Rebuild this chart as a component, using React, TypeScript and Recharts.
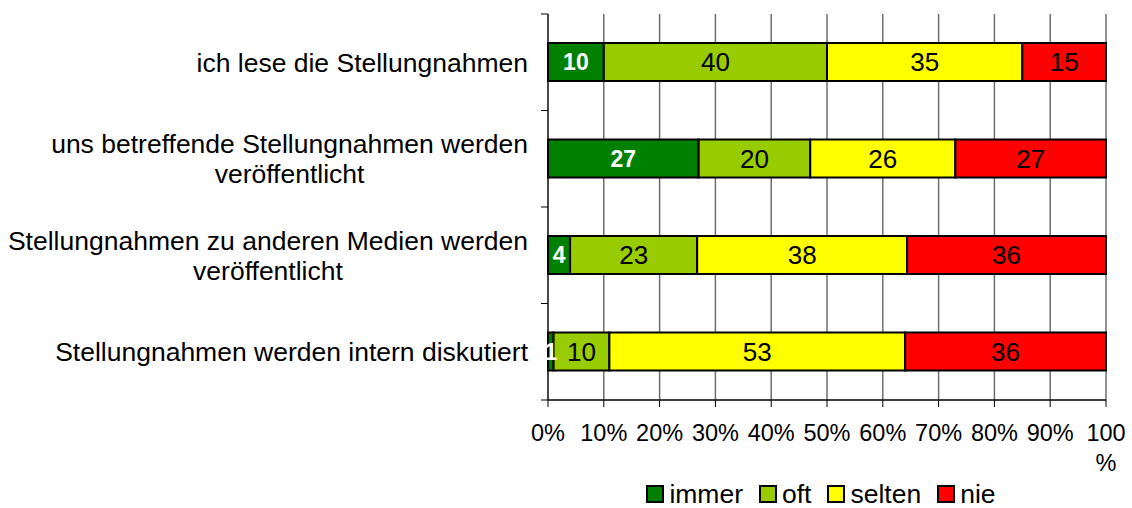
import React from 'react';
import { BarChart, Bar, XAxis, YAxis, CartesianGrid, Legend, LabelList } from 'recharts';

const CATEGORIES = [
  'ich lese die Stellungnahmen',
  'uns betreffende Stellungnahmen werden|veröffentlicht',
  'Stellungnahmen zu anderen Medien werden|veröffentlicht',
  'Stellungnahmen werden intern diskutiert',
];
const IMMER = [10, 27, 4, 1];
const OFT = [40, 20, 23, 10];
const SELTEN = [35, 26, 38, 53];
const NIE = [15, 27, 36, 36];
const X_TICKS = [0, 0.1, 0.2, 0.3, 0.4, 0.5, 0.6, 0.7, 0.8, 0.9, 1];

const SERIES = [
  { key: 'immer', color: '#008000' },
  { key: 'oft', color: '#99CC00' },
  { key: 'selten', color: '#FFFF00' },
  { key: 'nie', color: '#FF0000' },
];

const data = CATEGORIES.map((name, i) => ({
  name,
  immer: IMMER[i],
  oft: OFT[i],
  selten: SELTEN[i],
  nie: NIE[i],
}));

const FONT = '"Liberation Sans", Arial, sans-serif';
const W = 1132;
const H = 508;
const MARGIN = { top: 14, right: 26, bottom: 0, left: 0 };
const Y_WIDTH = 548;
const X_HEIGHT = 70;
const LEGEND_H = 38;
const PLOT_H = H - MARGIN.top - X_HEIGHT - LEGEND_H;
const BAND = PLOT_H / CATEGORIES.length;

let ctx: CanvasRenderingContext2D | null = null;
const measure = (text: string, size: number) => {
  if (!ctx) ctx = document.createElement('canvas').getContext('2d');
  if (!ctx) return text.length * size * 0.5;
  ctx.font = `${size}px "Liberation Sans"`;
  return ctx.measureText(text).width;
};

const CategoryTick = (props: any) => {
  const { x, y, payload, index } = props;
  const lines: string[] = String(payload.value).split('|');
  const size = 26.5;
  const lh = 30;
  const maxW = Math.max(...lines.map((l) => measure(l, size)));
  const cx = x - maxW / 2;
  const axisX = x + 20;
  return (
    <g>
      <line x1={axisX - 7} x2={axisX} y1={y - BAND / 2} y2={y - BAND / 2} stroke="#000" />
      {index === CATEGORIES.length - 1 && (
        <line x1={axisX - 7} x2={axisX} y1={y + BAND / 2} y2={y + BAND / 2} stroke="#000" />
      )}
      {lines.map((l, i) => (
        <text
          key={i}
          x={lines.length > 1 ? cx : x}
          y={y + (i - (lines.length - 1) / 2) * lh}
          dy="0.35em"
          textAnchor={lines.length > 1 ? 'middle' : 'end'}
          fontSize={size}
          fontFamily={FONT}
          fill="#000"
        >
          {l}
        </text>
      ))}
    </g>
  );
};

const PercentTick = (props: any) => {
  const { x, y, payload } = props;
  const v = Math.round(payload.value * 100);
  const lines = v === 100 ? ['100', '%'] : [`${v}%`];
  return (
    <g>
      {lines.map((l, i) => (
        <text key={i} x={x} y={y + 32 + i * 30} textAnchor="middle" fontSize={23.5} fontFamily={FONT} fill="#000">
          {l}
        </text>
      ))}
    </g>
  );
};

const LegendContent = () => (
  <div
    style={{
      display: 'flex',
      justifyContent: 'center',
      alignItems: 'center',
      height: LEGEND_H,
      paddingTop: 10,
      boxSizing: 'border-box',
      fontFamily: FONT,
      fontSize: 26.5,
      color: '#000',
    }}
  >
    {SERIES.map((s, i) => (
      <div
        key={s.key}
        style={{ display: 'flex', alignItems: 'center', marginRight: i === SERIES.length - 1 ? 0 : 16 }}
      >
        <span
          style={{
            display: 'inline-block',
            width: 14,
            height: 14,
            background: s.color,
            border: '2px solid #000',
            marginRight: 5,
          }}
        />
        <span>{s.key}</span>
      </div>
    ))}
  </div>
);

export default function App() {
  return (
    <div style={{ position: 'absolute', left: 0, top: 0, width: W, height: H, background: '#fff' }}>
      <BarChart
        width={W}
        height={H}
        data={data}
        layout="vertical"
        stackOffset="expand"
        margin={MARGIN}
        barSize={38}
      >
        <CartesianGrid horizontal={false} stroke="#6e6e6e" strokeWidth={1.5} />
        <XAxis
          type="number"
          domain={[0, 1]}
          ticks={X_TICKS}
          interval={0}
          height={X_HEIGHT}
          axisLine={{ stroke: '#000', strokeWidth: 1.5 }}
          tickLine={{ stroke: '#000' }}
          tickSize={7}
          tick={<PercentTick />}
        />
        <YAxis
          type="category"
          dataKey="name"
          width={Y_WIDTH}
          axisLine={{ stroke: '#000', strokeWidth: 1 }}
          tickLine={false}
          tickSize={7}
          tickMargin={13}
          interval={0}
          tick={<CategoryTick />}
        />
        <Legend
          verticalAlign="bottom"
          height={LEGEND_H}
          content={<LegendContent />}
          wrapperStyle={{ left: Y_WIDTH - 6, width: W - Y_WIDTH - MARGIN.right, bottom: 0 }}
        />
        {SERIES.map((s) => (
          <Bar
            key={s.key}
            dataKey={s.key}
            stackId="a"
            fill={s.color}
            stroke="#000"
            strokeWidth={2}
            isAnimationActive={false}
          >
            <LabelList
              dataKey={s.key}
              position="center"
              fill={s.key === 'immer' ? '#fff' : '#000'}
              fontWeight={s.key === 'immer' ? 'bold' : 'normal'}
              fontSize={s.key === 'immer' ? 23 : 26}
              fontFamily={FONT}
            />
          </Bar>
        ))}
      </BarChart>
    </div>
  );
}
